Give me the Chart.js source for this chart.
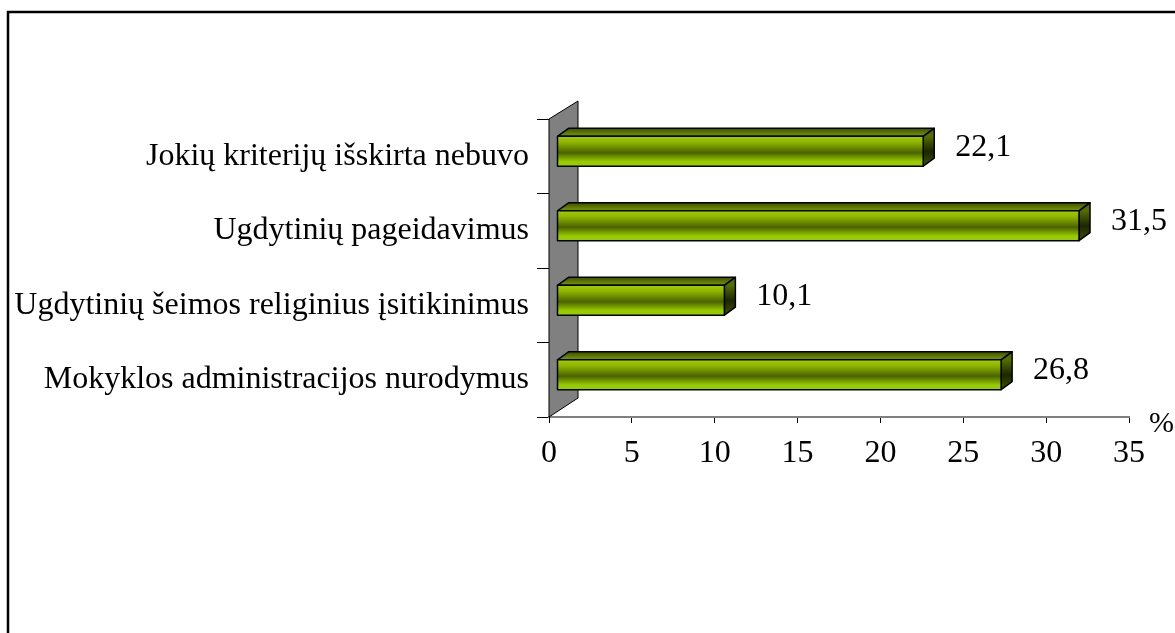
<!DOCTYPE html>
<html>
<head>
<meta charset="utf-8">
<script src="https://cdn.jsdelivr.net/npm/chart.js@4"></script>
<style>
  body { margin: 0; background: #fff; }
  canvas { display: block; }
</style>
</head>
<body>
<canvas id="chart" width="1175" height="633"></canvas>
<script>
// categories top to bottom, values in %
const categories = [
    'Jokių kriterijų išskirta nebuvo',
    'Ugdytinių pageidavimus',
    'Ugdytinių šeimos religinius įsitikinimus',
    'Mokyklos administracijos nurodymus'
];
const percents = [22.1, 31.5, 10.1, 26.8];
const xTicks = [0, 5, 10, 15, 20, 25, 30, 35];

const serif = "'Liberation Serif', 'Times New Roman', serif";

// fake 3d: depth of bars and wall
const depthX = 11, depthY = -8;
const shiftX = 8, shiftY = -5;

const framePlugin = {
    id: 'frame',
    beforeDraw(chart) {
        const ctx = chart.ctx;
        ctx.save();
        ctx.strokeStyle = '#000';
        ctx.lineWidth = 2.5;
        ctx.beginPath();
        ctx.moveTo(8, 640);
        ctx.lineTo(8, 12);
        ctx.lineTo(1180, 12);
        ctx.stroke();
        ctx.restore();
    }
};

const wallPlugin = {
    id: 'wall',
    beforeDatasetsDraw(chart) {
        const { ctx, chartArea: a } = chart;
        ctx.save();
        ctx.fillStyle = '#808080';
        ctx.strokeStyle = '#000';
        ctx.lineWidth = 1;
        ctx.beginPath();
        ctx.moveTo(a.left, a.top);
        ctx.lineTo(a.left + 29, a.top - 18);
        ctx.lineTo(a.left + 29, a.bottom - 19);
        ctx.lineTo(a.left, a.bottom);
        ctx.closePath();
        ctx.fill();
        ctx.stroke();
        ctx.restore();
    }
};

const bars3dPlugin = {
    id: 'bars3d',
    afterDatasetsDraw(chart) {
        const ctx = chart.ctx;
        const meta = chart.getDatasetMeta(0);
        ctx.save();
        ctx.lineWidth = 1.5;
        ctx.strokeStyle = '#000';
        ctx.lineJoin = 'round';
        meta.data.forEach((bar, i) => {
            const l = bar.base + shiftX;
            const r = bar.x + shiftX;
            const t = bar.y + shiftY - bar.height / 2;
            const b = bar.y + shiftY + bar.height / 2;

            // top face
            let g = ctx.createLinearGradient(0, t + depthY, 0, t);
            g.addColorStop(0, '#3f5000');
            g.addColorStop(1, '#7a9a00');
            ctx.fillStyle = g;
            ctx.beginPath();
            ctx.moveTo(l, t);
            ctx.lineTo(l + depthX, t + depthY);
            ctx.lineTo(r + depthX, t + depthY);
            ctx.lineTo(r, t);
            ctx.closePath();
            ctx.fill();
            ctx.stroke();

            // right face
            g = ctx.createLinearGradient(0, t, 0, b);
            g.addColorStop(0, '#556e00');
            g.addColorStop(0.5, '#1c2600');
            g.addColorStop(1, '#3e5200');
            ctx.fillStyle = g;
            ctx.beginPath();
            ctx.moveTo(r, t);
            ctx.lineTo(r + depthX, t + depthY);
            ctx.lineTo(r + depthX, b + depthY);
            ctx.lineTo(r, b);
            ctx.closePath();
            ctx.fill();
            ctx.stroke();

            // front face
            g = ctx.createLinearGradient(0, t, 0, b);
            g.addColorStop(0, '#a3cc00');
            g.addColorStop(0.2, '#8fb400');
            g.addColorStop(0.55, '#4b6200');
            g.addColorStop(0.85, '#99cc00');
            g.addColorStop(1, '#99cc00');
            ctx.fillStyle = g;
            ctx.fillRect(l, t, r - l, b - t);
            ctx.strokeRect(l, t, r - l, b - t);

            // value label
            ctx.fillStyle = '#000';
            ctx.font = '32px ' + serif;
            ctx.textAlign = 'center';
            ctx.textBaseline = 'middle';
            ctx.fillText(percents[i].toFixed(1).replace('.', ','), r + 60, bar.y + shiftY - 4);
        });

        // unit
        const a = chart.chartArea;
        ctx.font = '30px ' + serif;
        ctx.textAlign = 'left';
        ctx.fillText('%', a.right + 20, a.bottom + 7);
        ctx.restore();
    }
};

new Chart(document.getElementById('chart'), {
    type: 'bar',
    data: {
        labels: categories,
        datasets: [{
            data: percents,
            backgroundColor: 'rgba(0,0,0,0)',
            borderWidth: 0,
            barPercentage: 0.4,
            categoryPercentage: 1
        }]
    },
    options: {
        indexAxis: 'y',
        responsive: false,
        animation: false,
        devicePixelRatio: 1,
        layout: { padding: { top: 119, right: 46, bottom: 0, left: 0 } },
        plugins: {
            legend: { display: false },
            tooltip: { enabled: false }
        },
        scales: {
            x: {
                min: 0,
                max: 35,
                afterBuildTicks(scale) {
                    scale.ticks = xTicks.map(v => ({ value: v }));
                },
                afterFit(scale) { scale.height = 633 - 417; },
                grid: { drawOnChartArea: false, tickLength: 6, color: '#000' },
                border: { color: '#808080', width: 2 },
                ticks: {
                    color: '#000',
                    padding: 11,
                    font: { family: serif, size: 32 }
                }
            },
            y: {
                afterFit(scale) { scale.width = 549; },
                grid: { drawOnChartArea: false, tickLength: 12, color: '#000', offset: true },
                border: { color: '#000', width: 1 },
                ticks: {
                    color: '#000',
                    padding: 8,
                    autoSkip: false,
                    font: { family: serif, size: 32 }
                }
            }
        }
    },
    plugins: [framePlugin, wallPlugin, bars3dPlugin]
});
</script>
</body>
</html>
